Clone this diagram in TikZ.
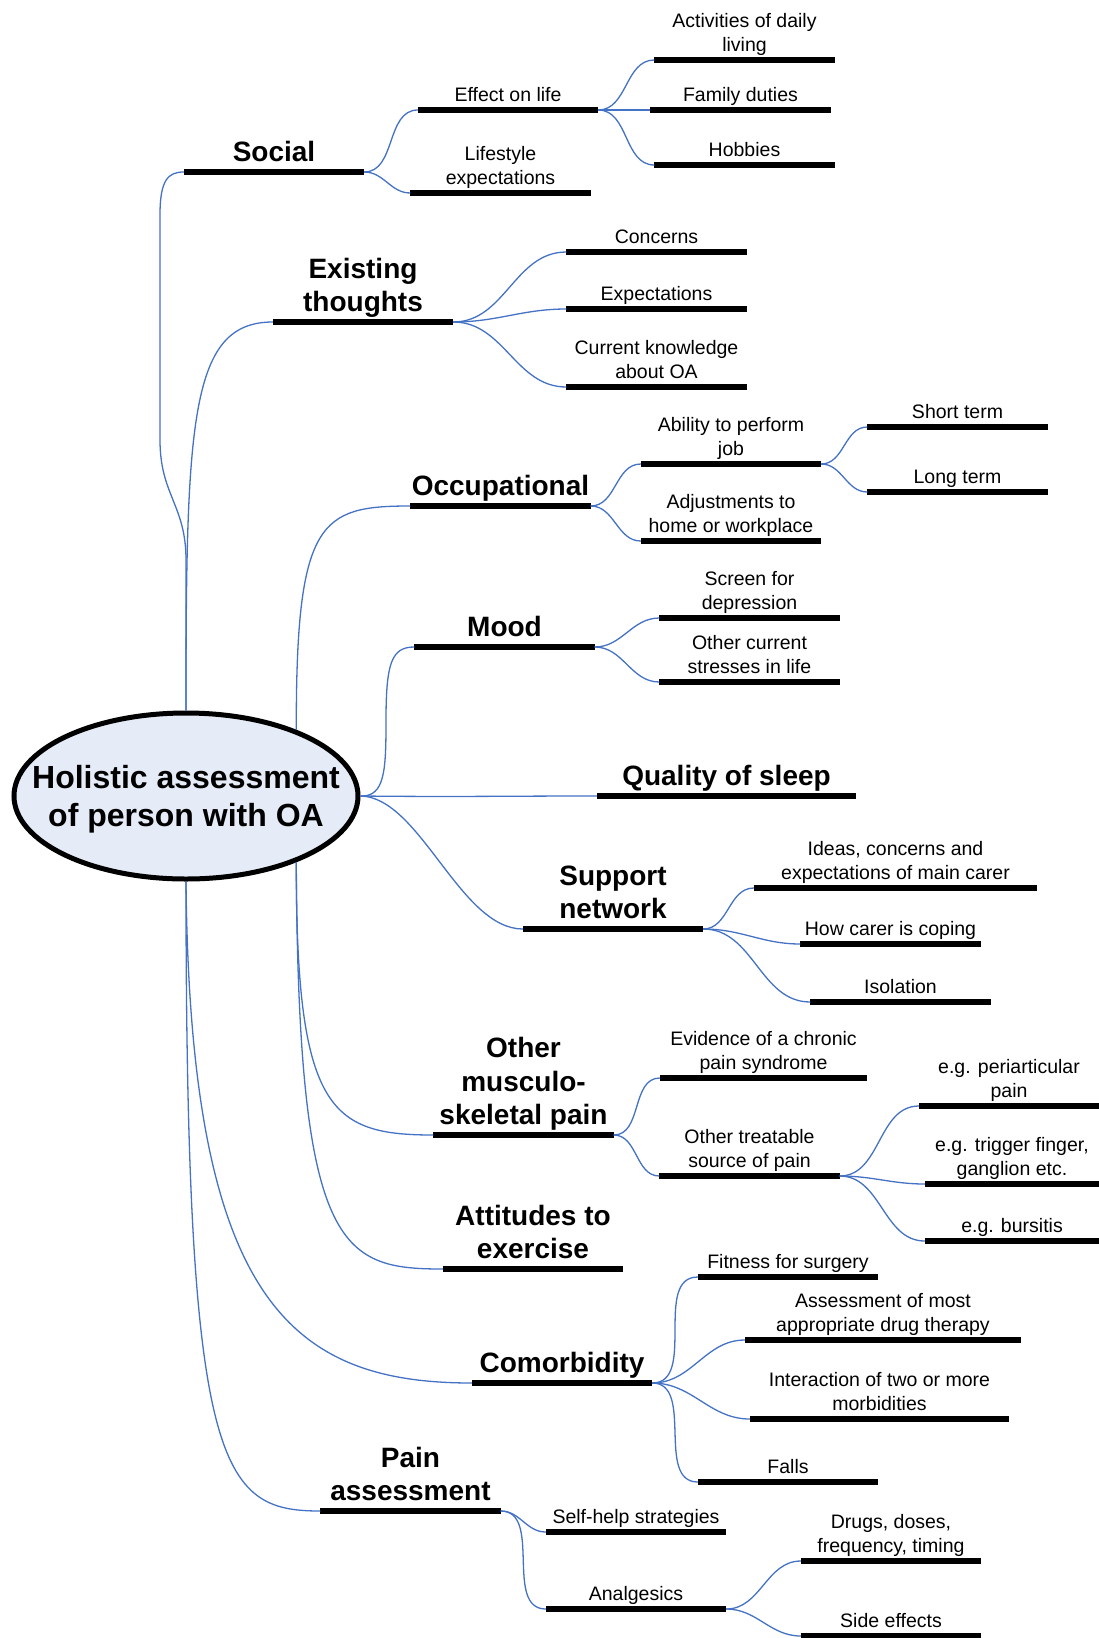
\documentclass[tikz,border=0pt]{standalone}
\usepackage{fontspec}
\setmainfont{Liberation Sans}
\usetikzlibrary{shapes.geometric}
\definecolor{linkblue}{RGB}{68,114,196}
\definecolor{rootfill}{RGB}{230,236,247}
\tikzset{
  root/.style={ellipse, draw, line width=5pt, fill=rootfill, minimum width=344pt, minimum height=166pt, align=center, inner xsep=-40pt, inner ysep=0pt, text depth=0pt, font=\fontsize{32}{38}\selectfont\bfseries},
  maintopic/.style={anchor=south, minimum width=180pt, align=center, text depth=0pt, inner xsep=0pt, inner ysep=10pt, font=\fontsize{28}{33.5}\selectfont\bfseries},
  subtopic/.style={anchor=south, minimum width=180pt, align=center, text depth=0pt, inner xsep=0pt, inner ysep=8.5pt, font=\fontsize{19.5}{24}\selectfont},
  bar/.style={line width=5.5pt},
  link/.style={draw=linkblue, line width=1.3pt}
}
\begin{document}
\begin{tikzpicture}[x=1pt, y=-1pt]
    \useasboundingbox (0,0) rectangle (1099,1638);
    \node[root] (root) at (186,796) {Holistic assessment\\of person with OA};
    % social
    \node[maintopic] (social) at (274,172) {Social};
    \node[subtopic] (effect) at (508,110) {Effect on life};
    \node[subtopic] (lifestyle) at (500.5,193) {Lifestyle\\expectations};
    \node[subtopic] (adl) at (744.5,60) {Activities of daily\\living};
    \node[subtopic] (family) at (740.5,110) {Family duties};
    \node[subtopic] (hobbies) at (744.5,165) {Hobbies};
    % thoughts
    \node[maintopic] (exist) at (363,322) {Existing\\thoughts};
    \node[subtopic] (concerns) at (656.5,252) {Concerns};
    \node[subtopic] (expect) at (656.5,309) {Expectations};
    \node[subtopic] (knowledge) at (656.5,387) {Current knowledge\\about OA};
    % work
    \node[maintopic] (occup) at (500.5,506) {Occupational};
    \node[subtopic] (ability) at (731,464) {Ability to perform\\job};
    \node[subtopic] (adjust) at (731,541) {Adjustments to\\home or workplace};
    \node[subtopic] (short) at (957.5,427) {Short term};
    \node[subtopic] (long) at (957.5,492) {Long term};
    % mood and sleep
    \node[maintopic] (mood) at (504.5,647) {Mood};
    \node[subtopic] (screen) at (749.5,618) {Screen for\\depression};
    \node[subtopic] (stress) at (749.5,682) {Other current\\stresses in life};
    \node[maintopic, minimum width=259pt] (sleep) at (726.5,796) {Quality of sleep};
    % support
    \node[maintopic] (support) at (613,929) {Support\\network};
    \node[subtopic, minimum width=283pt] (ideas) at (895.5,888) {Ideas, concerns and\\expectations of main carer};
    \node[subtopic] (coping) at (890.5,944) {How carer is coping};
    \node[subtopic] (isolation) at (900.5,1002) {Isolation};
    % other pain
    \node[maintopic] (musc) at (523.5,1135) {Other\\musculo-\\skeletal pain};
    \node[subtopic, minimum width=207pt] (chronic) at (763.5,1078) {Evidence of a chronic\\pain syndrome};
    \node[subtopic] (treat) at (749.5,1176) {Other treatable\\source of pain};
    \node[subtopic] (peri) at (1009,1106) {e.g. periarticular\\pain};
    \node[subtopic, minimum width=174pt] (trigger) at (1012,1184) {e.g. trigger finger,\\ganglion etc.};
    \node[subtopic, minimum width=174pt] (bursitis) at (1012,1241) {e.g. bursitis};
    \node[maintopic] (attitude) at (533,1269) {Attitudes to\\exercise};
    % comorbidity
    \node[maintopic] (comorb) at (562,1383) {Comorbidity};
    \node[subtopic] (fitness) at (788,1277) {Fitness for surgery};
    \node[subtopic, minimum width=276pt] (drugther) at (883,1340) {Assessment of most\\appropriate drug therapy};
    \node[subtopic, minimum width=259pt] (interact) at (879.5,1419) {Interaction of two or more\\morbidities};
    \node[subtopic] (falls) at (788,1482) {Falls};
    % pain
    \node[maintopic] (painass) at (410.5,1511) {Pain\\assessment};
    \node[subtopic] (selfhelp) at (636,1532) {Self-help strategies};
    \node[subtopic] (analg) at (636,1609) {Analgesics};
    \node[subtopic] (drugs) at (891,1561) {Drugs, doses,\\frequency, timing};
    \node[subtopic] (side) at (891,1636) {Side effects};

    \foreach \n in {social,effect,lifestyle,adl,family,hobbies,exist,concerns,expect,knowledge,
        occup,ability,adjust,short,long,mood,screen,stress,sleep,support,ideas,coping,isolation,
        musc,chronic,treat,peri,trigger,bursitis,attitude,comorb,fitness,drugther,interact,falls,
        painass,selfhelp,analg,drugs,side}
        \draw[bar] (\n.south west) -- (\n.south east);

    % from the centre
    \draw[link] (root.north) -- (186,560) .. controls (186,505) and (160,495) .. (160,440) -- (160,215) .. controls (160,180) and (168,172) .. (social.south west);
    \draw[link] (root.north) .. controls (186,420) and (190,322) .. (exist.south west);
    \draw[link] (root.31) .. controls (296,520) and (320,506) .. (occup.south west);
    \draw[link] (root.east) .. controls (385,797) and (386,770) .. (386,720) .. controls (386,662) and (392,647) .. (mood.south west);
    \draw[link] (root.east) .. controls (460,797) and (500,796) .. (sleep.south west);
    \draw[link] (root.east) .. controls (420,797) and (460,929) .. (support.south west);
    \draw[link] (root.-31) .. controls (296,1110) and (330,1135) .. (musc.south west);
    \draw[link] (root.-31) .. controls (298,1250) and (340,1269) .. (attitude.south west);
    \draw[link] (root.south) .. controls (190,1300) and (290,1383) .. (comorb.south west);
    \draw[link] (root.south) .. controls (186,1470) and (220,1511) .. (painass.south west);

    \foreach \a/\b in {social/effect,social/lifestyle,effect/adl,effect/family,effect/hobbies,
        exist/concerns,exist/expect,exist/knowledge,occup/ability,occup/adjust,ability/short,ability/long,
        mood/screen,mood/stress,support/ideas,support/coping,support/isolation,
        musc/chronic,musc/treat,treat/peri,treat/trigger,treat/bursitis,
        comorb/fitness,comorb/drugther,comorb/interact,comorb/falls,
        painass/selfhelp,painass/analg,analg/drugs,analg/side}
        \draw[link] (\a.south east) to[out=0,in=180] (\b.south west);
\end{tikzpicture}
\end{document}
